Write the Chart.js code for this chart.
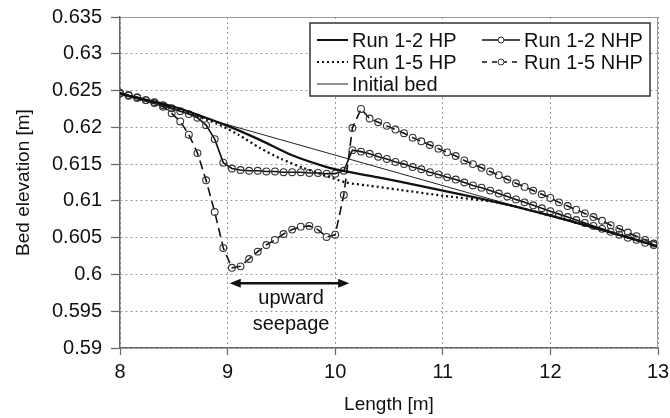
<!DOCTYPE html>
<html><head><meta charset="utf-8">
<script src="https://cdn.jsdelivr.net/npm/chart.js@4/dist/chart.umd.min.js"></script>
<style>html,body{margin:0;padding:0;background:#fff}#wrap{width:670px;height:418px}</style>
</head><body><div id="wrap"><canvas id="c" width="670" height="418"></canvas></div>
<script>
// ---- data ----
const seriesNames = ['Run 1-2 HP', 'Run 1-5 HP', 'Initial bed', 'Run 1-2 NHP', 'Run 1-5 NHP'];
const xTicks = [8, 9, 10, 11, 12, 13];
const yTicks = [0.59, 0.595, 0.6, 0.605, 0.61, 0.615, 0.62, 0.625, 0.63, 0.635];

const bedX = [8, 13];
const bedY = [0.6245, 0.6038];

const hp12X = [8.0, 8.5, 9.0, 9.3, 9.6, 9.9, 10.1, 10.4, 10.8, 11.2, 11.6, 12.0, 12.5, 13.0];
const hp12Y = [0.6246, 0.6228, 0.6202, 0.6183, 0.6162, 0.6147, 0.6140, 0.6132, 0.6120, 0.6108, 0.6095, 0.6080, 0.6060, 0.6038];

const hp15X = [8.0, 8.5, 8.9, 9.1, 9.3, 9.5, 9.7, 9.9, 10.1, 10.3, 10.6, 11.0, 11.5, 12.0, 12.5, 13.0];
const hp15Y = [0.6246, 0.6226, 0.6205, 0.6190, 0.6172, 0.6157, 0.6145, 0.6135, 0.6125, 0.6121, 0.6115, 0.6107, 0.6098, 0.6080, 0.6060, 0.6038];

const nodeX = [
  8.00, 8.08, 8.16, 8.24, 8.32, 8.40, 8.48, 8.56, 8.64, 8.72,
  8.80, 8.88, 8.96, 9.04, 9.12, 9.20, 9.28, 9.36, 9.44, 9.52,
  9.60, 9.68, 9.76, 9.84, 9.92, 10.00, 10.08, 10.16, 10.24, 10.32,
  10.40, 10.48, 10.56, 10.64, 10.72, 10.80, 10.88, 10.96, 11.04, 11.12,
  11.20, 11.28, 11.36, 11.44, 11.52, 11.60, 11.68, 11.76, 11.84, 11.92,
  12.00, 12.08, 12.16, 12.24, 12.32, 12.40, 12.48, 12.56, 12.64, 12.72,
  12.80, 12.88, 12.96];

const nhp12Y = [
  0.6246, 0.6243, 0.6240, 0.6237, 0.6234, 0.6230, 0.6226, 0.6222, 0.6218, 0.6213,
  0.6203, 0.6184, 0.6152, 0.6144, 0.6142, 0.6141, 0.6141, 0.6140, 0.6140, 0.6139,
  0.6139, 0.6139, 0.6138, 0.6138, 0.6137, 0.6137, 0.6141, 0.6169, 0.6167, 0.6164,
  0.6160, 0.6157, 0.6153, 0.6150, 0.6146, 0.6143, 0.6139, 0.6136, 0.6132, 0.6129,
  0.6125, 0.6121, 0.6118, 0.6114, 0.6110, 0.6106, 0.6102, 0.6098, 0.6094, 0.6090,
  0.6086, 0.6082, 0.6078, 0.6074, 0.6070, 0.6066, 0.6062, 0.6058, 0.6054, 0.6050,
  0.6047, 0.6043, 0.6040];

const nhp15Y = [
  0.6247, 0.6244, 0.6241, 0.6237, 0.6233, 0.6228, 0.6219, 0.6208, 0.6190, 0.6165,
  0.6128, 0.6085, 0.6036, 0.6009, 0.6011, 0.6021, 0.6031, 0.6040, 0.6047, 0.6055,
  0.6061, 0.6065, 0.6066, 0.6061, 0.6051, 0.6054, 0.6108, 0.6199, 0.6225, 0.6212,
  0.6207, 0.6202, 0.6197, 0.6192, 0.6186, 0.6181, 0.6176, 0.6171, 0.6166, 0.6161,
  0.6155, 0.6150, 0.6145, 0.6140, 0.6135, 0.6129, 0.6124, 0.6119, 0.6114, 0.6109,
  0.6104, 0.6098, 0.6093, 0.6088, 0.6083, 0.6078, 0.6073, 0.6067, 0.6062, 0.6057,
  0.6052, 0.6047, 0.6042];

// annotation: "upward seepage" arrow span and label
const seepageX = [9.02, 10.13];
const seepageArrowY = 0.5988;
const seepageLabels = ['upward', 'seepage'];
const seepageLabelX = 9.59;
const seepageLabelY = [0.59667, 0.59313];

// ---- build ----
const FONT = "'Liberation Sans', Arial, Helvetica, sans-serif";
const INK = '#111';
const pts = (xs, ys) => xs.map((x, i) => ({x: x, y: ys[i]}));

const datasets = [
  {label: seriesNames[0], data: pts(hp12X, hp12Y), borderColor: INK, borderWidth: 2.3, pointRadius: 0, tension: 0.25, showLine: true},
  {label: seriesNames[1], data: pts(hp15X, hp15Y), borderColor: INK, borderWidth: 2.3, borderDash: [2, 3], pointRadius: 0, tension: 0.25, showLine: true},
  {label: seriesNames[2], data: pts(bedX, bedY), borderColor: '#222', borderWidth: 1, pointRadius: 0, showLine: true},
  {label: seriesNames[3], data: pts(nodeX, nhp12Y), borderColor: INK, borderWidth: 1.6, pointRadius: 3.4, pointBorderWidth: 1.1,
    pointBorderColor: '#333', pointBackgroundColor: 'rgba(0,0,0,0)', showLine: true},
  {label: seriesNames[4], data: pts(nodeX, nhp15Y), borderColor: INK, borderWidth: 1.6, borderDash: [9, 5], pointRadius: 3.4, pointBorderWidth: 1.1,
    pointBorderColor: '#333', pointBackgroundColor: 'rgba(0,0,0,0)', showLine: true}
];

const legendOrder = [0, 3, 1, 4, 2];

const extras = {
  id: 'extras',
  afterDatasetsDraw(chart) {
    const ctx = chart.ctx, xs = chart.scales.x, ys = chart.scales.y;
    const x1 = xs.getPixelForValue(seepageX[0]), x2 = xs.getPixelForValue(seepageX[1]);
    const y = ys.getPixelForValue(seepageArrowY);
    ctx.save();
    ctx.strokeStyle = INK; ctx.fillStyle = INK; ctx.lineWidth = 2.6;
    ctx.beginPath(); ctx.moveTo(x1 + 6, y); ctx.lineTo(x2 - 6, y); ctx.stroke();
    const head = (xt, dir) => {
      ctx.beginPath(); ctx.moveTo(xt, y); ctx.lineTo(xt - dir * 11, y - 4.5); ctx.lineTo(xt - dir * 11, y + 4.5); ctx.closePath(); ctx.fill();
    };
    head(x1, -1); head(x2, 1);
    ctx.font = '20px ' + FONT; ctx.textAlign = 'center'; ctx.textBaseline = 'middle';
    seepageLabels.forEach((t, i) => ctx.fillText(t, xs.getPixelForValue(seepageLabelX), ys.getPixelForValue(seepageLabelY[i])));
    ctx.restore();
  },
  afterDraw(chart) {
    const ctx = chart.ctx, a = chart.chartArea;
    ctx.save();
    ctx.strokeStyle = '#999'; ctx.lineWidth = 1;
    ctx.beginPath();
    ctx.moveTo(a.left, a.top + 0.5); ctx.lineTo(a.right - 0.5, a.top + 0.5); ctx.lineTo(a.right - 0.5, a.bottom);
    ctx.stroke();
    const bw = 340, bh = 73;
    const bx = a.right - 8 - bw, by = a.top + 6;
    ctx.fillStyle = '#fff'; ctx.fillRect(bx, by, bw, bh);
    ctx.strokeStyle = '#333'; ctx.lineWidth = 1.5; ctx.strokeRect(bx, by, bw, bh);
    ctx.font = '20px ' + FONT; ctx.textBaseline = 'middle'; ctx.textAlign = 'left';
    legendOrder.forEach((di, k) => {
      const ds = chart.data.datasets[di];
      const col = k % 2, row = Math.floor(k / 2);
      const sx = bx + (col === 0 ? 7 : 172);
      const sl = col === 0 ? 31 : 38;
      const yy = by + 17 + row * 22;
      ctx.strokeStyle = ds.borderColor; ctx.lineWidth = Math.min(ds.borderWidth, 2);
      ctx.setLineDash(ds.borderDash ? [Math.min(ds.borderDash[0], 5), ds.borderDash[1]] : []);
      ctx.beginPath(); ctx.moveTo(sx, yy); ctx.lineTo(sx + sl, yy); ctx.stroke();
      ctx.setLineDash([]);
      if (ds.pointRadius > 0) {
        ctx.fillStyle = '#fff'; ctx.strokeStyle = '#333'; ctx.lineWidth = 1;
        ctx.beginPath(); ctx.arc(sx + sl / 2, yy, 3, 0, Math.PI * 2); ctx.fill(); ctx.stroke();
      }
      ctx.fillStyle = INK;
      ctx.fillText(ds.label, sx + sl + 4, yy + 1);
    });
    ctx.restore();
  }
};

new Chart(document.getElementById('c'), {
  type: 'scatter',
  data: {datasets: datasets},
  options: {
    responsive: false, animation: false, devicePixelRatio: 1,
    layout: {padding: {top: 17, right: 12, left: 0, bottom: 0}},
    plugins: {legend: {display: false}, tooltip: {enabled: false}},
    scales: {
      x: {
        type: 'linear', min: 8, max: 13,
        afterBuildTicks: s => { s.ticks = xTicks.map(v => ({value: v})); },
        afterFit: s => { s.height = 70; s.paddingLeft = 0; s.paddingRight = 0; },
        grid: {color: '#999', lineWidth: 1, tickLength: 7, tickColor: '#666', tickWidth: 1.2},
        border: {color: '#666', width: 1.5, dash: [2, 3]},
        ticks: {color: INK, font: {family: FONT, size: 20}, padding: 5, maxRotation: 0, callback: v => String(v)},
        title: {display: true, text: 'Length [m]', color: INK, font: {family: FONT, size: 19}, padding: {top: 0, bottom: 2}}
      },
      y: {
        type: 'linear', min: 0.59, max: 0.635,
        afterBuildTicks: s => { s.ticks = yTicks.map(v => ({value: v})); },
        afterFit: s => { s.width = 120; s.paddingTop = 0; s.paddingBottom = 0; },
        grid: {color: '#999', lineWidth: 1, tickLength: 9, tickColor: '#666', tickWidth: 1.2},
        border: {color: '#666', width: 1.5, dash: [2, 3]},
        ticks: {color: INK, font: {family: FONT, size: 20}, padding: 9, callback: v => String(+v.toFixed(3))},
        title: {display: true, text: 'Bed elevation [m]', color: INK, font: {family: FONT, size: 19}, padding: {top: 12, bottom: 0}}
      }
    }
  },
  plugins: [extras]
});
</script>
</body></html>
